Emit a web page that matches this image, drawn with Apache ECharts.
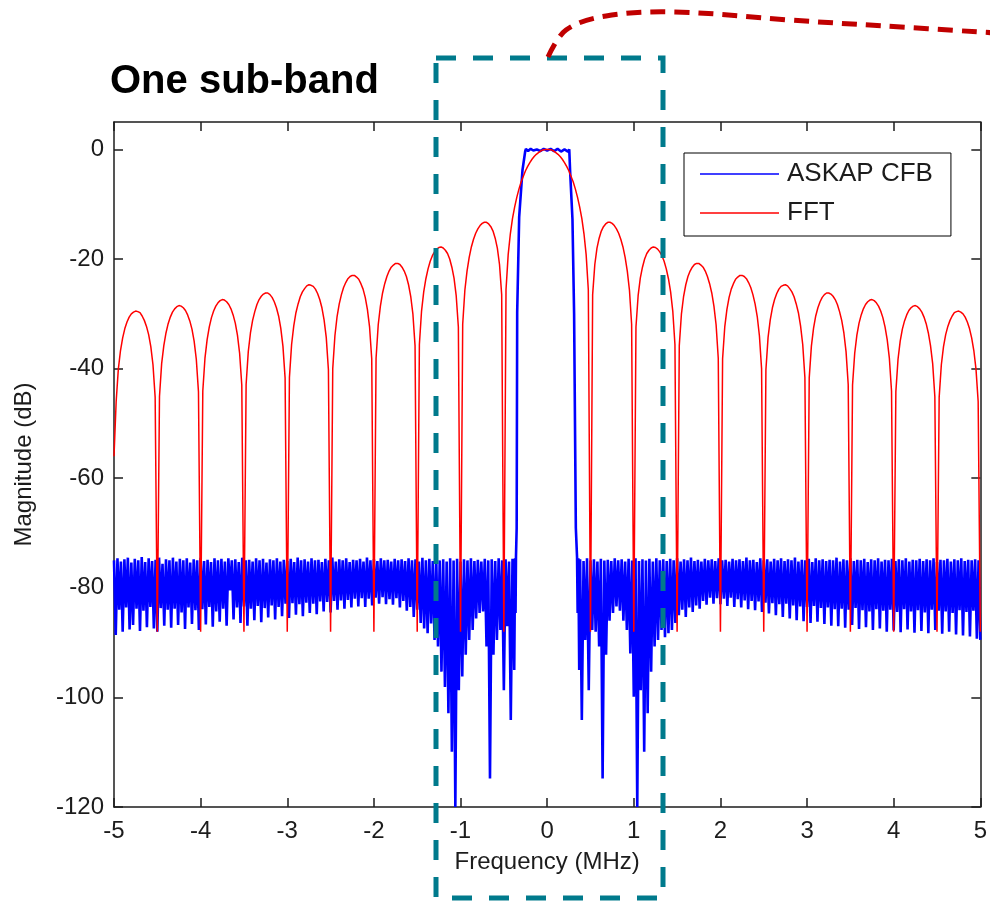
<!DOCTYPE html>
<html>
<head>
<meta charset="utf-8">
<script src="https://cdn.jsdelivr.net/npm/echarts@6/dist/echarts.min.js"></script>
<style>
  html, body { margin: 0; padding: 0; background: #ffffff; }
  #chart { width: 990px; height: 901px; }
</style>
</head>
<body>
<div id="chart"></div>
<script>
// ---- data -------------------------------------------------------------
// FFT response (dB), sampled every 0.025 MHz from -5 MHz to +5 MHz.
// Each row starts at a null and covers one 0.5 MHz lobe.
const fftStartMHz = -5;
const fftStepMHz = 0.025;
const fftDb = [
  -56.0, -46.0,-40.1,-36.7,-34.4,-32.7,-31.5,-30.6,-30.0,-29.7,-29.5,-29.6,-29.8,-30.4,-31.2,-32.3,-33.8,-36.0,-39.3,-45.2,
  -88.0, -45.1,-39.1,-35.8,-33.5,-31.8,-30.6,-29.7,-29.1,-28.7,-28.5,-28.6,-28.9,-29.4,-30.2,-31.3,-32.8,-35.0,-38.3,-44.2,
  -88.0, -44.1,-38.1,-34.7,-32.4,-30.7,-29.5,-28.6,-28.0,-27.6,-27.4,-27.5,-27.8,-28.3,-29.1,-30.2,-31.7,-33.9,-37.2,-43.0,
  -88.0, -42.9,-36.9,-33.5,-31.2,-29.6,-28.3,-27.4,-26.8,-26.4,-26.2,-26.2,-26.5,-27.0,-27.8,-28.9,-30.4,-32.6,-35.9,-41.7,
  -88.0, -41.6,-35.6,-32.2,-29.8,-28.2,-26.9,-26.0,-25.4,-24.9,-24.7,-24.8,-25.0,-25.5,-26.3,-27.4,-28.9,-31.1,-34.3,-40.2,
  -88.0, -40.0,-34.0,-30.5,-28.2,-26.5,-25.2,-24.3,-23.6,-23.2,-23.0,-23.0,-23.3,-23.7,-24.5,-25.5,-27.0,-29.2,-32.4,-38.2,
  -88.0, -38.1,-32.0,-28.6,-26.2,-24.5,-23.2,-22.2,-21.5,-21.1,-20.8,-20.8,-21.0,-21.5,-22.2,-23.2,-24.7,-26.8,-30.0,-35.8,
  -88.0, -35.6,-29.5,-26.0,-23.6,-21.8,-20.4,-19.4,-18.7,-18.2,-17.9,-17.8,-18.0,-18.4,-19.0,-20.0,-21.5,-23.5,-26.7,-32.4,
  -88.0, -31.9,-25.7,-22.2,-19.7,-17.8,-16.4,-15.3,-14.5,-13.9,-13.5,-13.3,-13.3,-13.6,-14.1,-14.9,-16.2,-18.0,-21.0,-26.5,
  // main lobe, -0.5 … +0.475
  -88.0, -25.6,-19.2,-15.4,-12.6,-10.5,-8.7,-7.2,-5.9,-4.9,-3.9,-3.1,-2.4,-1.8,-1.3,-0.9,-0.6,-0.3,-0.1,0.0,
    0.0,  0.0,-0.1,-0.3,-0.6,-0.9,-1.3,-1.8,-2.4,-3.1,-3.9,-4.9,-5.9,-7.2,-8.7,-10.5,-12.6,-15.4,-19.2,-25.6,
  -88.0, -26.5,-21.0,-18.0,-16.2,-14.9,-14.1,-13.6,-13.3,-13.3,-13.5,-13.9,-14.5,-15.3,-16.4,-17.8,-19.7,-22.2,-25.7,-31.9,
  -88.0, -32.4,-26.7,-23.5,-21.5,-20.0,-19.0,-18.4,-18.0,-17.8,-17.9,-18.2,-18.7,-19.4,-20.4,-21.8,-23.6,-26.0,-29.5,-35.6,
  -88.0, -35.8,-30.0,-26.8,-24.7,-23.2,-22.2,-21.5,-21.0,-20.8,-20.8,-21.1,-21.5,-22.2,-23.2,-24.5,-26.2,-28.6,-32.0,-38.1,
  -88.0, -38.2,-32.4,-29.2,-27.0,-25.5,-24.5,-23.7,-23.3,-23.0,-23.0,-23.2,-23.6,-24.3,-25.2,-26.5,-28.2,-30.5,-34.0,-40.0,
  -88.0, -40.2,-34.3,-31.1,-28.9,-27.4,-26.3,-25.5,-25.0,-24.8,-24.7,-24.9,-25.4,-26.0,-26.9,-28.2,-29.8,-32.2,-35.6,-41.6,
  -88.0, -41.7,-35.9,-32.6,-30.4,-28.9,-27.8,-27.0,-26.5,-26.2,-26.2,-26.4,-26.8,-27.4,-28.3,-29.6,-31.2,-33.5,-36.9,-42.9,
  -88.0, -43.0,-37.2,-33.9,-31.7,-30.2,-29.1,-28.3,-27.8,-27.5,-27.4,-27.6,-28.0,-28.6,-29.5,-30.7,-32.4,-34.7,-38.1,-44.1,
  -88.0, -44.2,-38.3,-35.0,-32.8,-31.3,-30.2,-29.4,-28.9,-28.6,-28.5,-28.7,-29.1,-29.7,-30.6,-31.8,-33.5,-35.8,-39.1,-45.1,
  -88.0, -45.2,-39.3,-36.0,-33.8,-32.3,-31.2,-30.4,-29.8,-29.6,-29.5,-29.7,-30.0,-30.6,-31.5,-32.7,-34.4,-36.7,-40.1,-46.0,
  -88.0
];

// Filter-bank stop band below the channel, every 0.02 MHz from -5.00 to -0.38 MHz.
const cfbStepMHz = 0.02;
const cfbLowStartMHz = -5.0;
const cfbLowDb = [
  -75.0,-88.6,-74.6,-84.0,-75.2,-88.0,-74.8,-83.6,-74.5,-87.6,
  -75.4,-86.8,-74.7,-83.8,-75.0,-87.9,-74.4,-84.2,-75.3,-87.2,
  -74.6,-83.5,-75.1,-87.4,-74.9,-88.0,-74.5,-83.7,-75.6,-86.9,
  -74.8,-84.0,-75.0,-87.3,-74.5,-83.8,-75.2,-86.8,-74.7,-84.5,
  -75.0,-87.5,-74.6,-83.6,-75.4,-86.6,-74.8,-84.1,-75.0,-87.7,
  -74.5,-83.9,-75.1,-86.7,-74.9,-83.5,-75.3,-87.1,-74.6,-84.3,
  -75.0,-86.2,-74.7,-83.8,-75.2,-86.9,-74.6,-80.5,-75.0,-85.8,
  -74.8,-83.6,-75.3,-86.4,-74.5,-83.4,-75.0,-86.9,-74.9,-83.8,
  -75.2,-85.9,-74.6,-83.3,-75.0,-86.3,-74.7,-83.7,-75.4,-85.4,
  -74.8,-83.2,-75.0,-85.8,-74.6,-83.5,-75.2,-85.2,-74.9,-82.9,
  -75.1,-85.5,-74.7,-82.8,-75.3,-84.9,-74.5,-83.0,-75.0,-85.2,
  -74.8,-82.7,-75.2,-84.6,-74.6,-82.9,-75.0,-84.8,-74.9,-82.5,
  -75.3,-84.3,-74.7,-82.6,-75.0,-84.5,-74.5,-82.4,-75.2,-84.0,
  -74.8,-82.3,-75.0,-83.8,-74.6,-82.2,-75.3,-83.6,-74.9,-82.0,
  -75.0,-83.4,-74.7,-81.9,-75.2,-83.5,-74.5,-82.0,-75.0,-83.2,
  -74.8,-81.8,-75.1,-82.9,-74.6,-81.7,-75.0,-83.0,-74.9,-82.1,
  -75.2,-83.1,-74.7,-81.9,-75.0,-83.6,-74.8,-82.4,-75.1,-84.2,
  -74.6,-83.5,-75.0,-85.3,-74.8,-84.0,-75.2,-86.4,-74.5,-87.4,
  -75.0,-88.3,-74.7,-86.5,-75.1,-89.5,-74.9,-90.7,-75.0,-95.3,
  -74.8,-98.1,-75.2,-102.9,-74.6,-109.9,-75.0,-120.0,-74.7,-98.7,
  -75.2,-96.2,-74.8,-92.2,-75.0,-89.5,-74.6,-87.7,-75.1,-85.6,
  -74.9,-84.6,-75.2,-84.3,-74.7,-90.7,-75.0,-114.8,-74.8,-92.2,
  -75.1,-89.5,-74.6,-87.7,-75.0,-98.7,-74.8,-87.0,-75.2,-104.1,
  -74.7,-95.0
];

// Transition bands and pass band of the channel, [MHz, dB].
const cfbCore = [
  [-0.370,-74.6],[-0.365,-84.6],[-0.360,-74.4],[-0.352,-69.1],[-0.346,-29.7],
  [-0.323,-12.3],[-0.285,-3.8],[-0.253,-0.3],[-0.245,0.1],[-0.220,-0.3],
  [-0.190,0.1],[-0.160,-0.2],[-0.120,0.0],[-0.080,-0.3],[-0.040,0.1],
  [0.000,-0.2],[0.040,0.1],[0.080,-0.3],[0.120,0.1],[0.160,-0.4],
  [0.200,0.0],[0.240,-0.4],[0.255,0.0],[0.261,-0.3],[0.265,-4.0],
  [0.292,-12.7],[0.311,-30.0],[0.331,-69.1],[0.345,-74.4],[0.352,-84.6],
  [0.360,-74.6],[0.370,-95.0]
];

// Stop band above the channel, every 0.02 MHz from 0.38 to 5.00 MHz.
const cfbHighStartMHz = 0.38;
const cfbHighDb = [
  -74.8,-104.1,-75.1,-89.5,-74.6,-98.7,-75.0,-87.7,-74.8,-88.0,
  -75.2,-90.7,-74.7,-114.8,-75.0,-92.2,-74.9,-86.0,-75.1,-84.6,
  -74.6,-83.4,-75.0,-84.2,-74.8,-86.0,-75.2,-87.7,-74.7,-92.0,
  -75.0,-99.9,-74.6,-120.0,-75.1,-98.7,-74.8,-109.9,-75.0,-102.9,
  -74.7,-95.3,-75.2,-90.7,-74.6,-89.5,-75.0,-87.7,-74.8,-89.0,
  -75.1,-88.3,-74.7,-87.7,-75.0,-86.4,-74.6,-85.0,-75.2,-84.0,
  -74.8,-85.3,-75.0,-83.6,-74.5,-84.4,-75.1,-83.2,-74.9,-83.8,
  -75.2,-82.4,-74.7,-83.1,-75.0,-81.8,-74.8,-82.9,-75.1,-81.9,
  -74.6,-83.0,-75.0,-82.0,-74.9,-83.3,-75.2,-81.8,-74.7,-83.5,
  -75.0,-82.1,-74.8,-83.6,-75.1,-82.3,-74.5,-83.9,-75.0,-82.4,
  -74.9,-84.1,-75.3,-82.5,-74.6,-84.4,-75.0,-82.7,-74.8,-84.7,
  -75.2,-82.8,-74.7,-85.0,-75.0,-83.0,-74.6,-85.3,-75.1,-82.9,
  -74.8,-85.6,-75.0,-83.2,-74.5,-85.9,-75.2,-83.4,-74.9,-86.1,
  -75.0,-83.5,-74.7,-86.4,-75.3,-83.3,-74.6,-86.2,-75.0,-83.7,
  -74.8,-86.6,-75.1,-83.6,-74.9,-86.9,-75.0,-83.9,-74.5,-87.0,
  -75.2,-83.8,-74.8,-87.3,-75.0,-84.0,-74.6,-86.8,-75.1,-83.7,
  -74.9,-87.5,-75.0,-84.1,-74.7,-87.2,-75.3,-84.3,-74.8,-87.7,
  -75.0,-83.9,-74.6,-87.4,-75.2,-84.2,-74.9,-88.0,-75.0,-84.0,
  -74.7,-87.8,-75.1,-84.4,-74.8,-88.1,-75.0,-83.9,-74.6,-87.6,
  -75.2,-84.3,-74.9,-88.2,-75.0,-84.1,-74.7,-87.9,-75.1,-84.5,
  -74.8,-88.3,-75.0,-84.0,-74.6,-87.7,-75.3,-84.2,-74.9,-88.4,
  -75.0,-84.3,-74.7,-88.0,-75.2,-84.6,-74.8,-88.5,-75.0,-84.1,
  -74.6,-88.7,-75.1,-84.4,-74.9,-88.9,-75.0,-84.2,-74.8,-89.3,
  -75.0,-89.5
];

const seriesNames = ['ASKAP CFB', 'FFT'];
const xTicks = [-5, -4, -3, -2, -1, 0, 1, 2, 3, 4, 5];
const yTicks = [-120, -100, -80, -60, -40, -20, 0];

// ---- build series --------------------------------------------------------
const round = v => Math.round(v * 1000) / 1000;
const fftData = fftDb.map((v, i) => [round(fftStartMHz + i * fftStepMHz), v]);
const cfbData = []
  .concat(cfbLowDb.map((v, i) => [round(cfbLowStartMHz + i * cfbStepMHz), v]))
  .concat(cfbCore)
  .concat(cfbHighDb.map((v, i) => [round(cfbHighStartMHz + i * cfbStepMHz), v]));

const FONT = '"Liberation Sans", Arial, sans-serif';
const INK = '#1c1c1c';

const chart = echarts.init(document.getElementById('chart'), null, { renderer: 'canvas' });

const axisLine = { show: true, onZero: false, lineStyle: { color: INK, width: 1.5 } };
const inTick = { show: true, inside: true, length: 9, lineStyle: { color: INK, width: 1.5 } };

chart.setOption({
  animation: false,
  backgroundColor: '#ffffff',
  grid: { left: 114, right: 8, top: 122, bottom: 94, containLabel: false },
  legend: {
    data: [
      { name: seriesNames[0], icon: 'rect', itemStyle: { color: '#0000ff' } },
      { name: seriesNames[1], icon: 'rect', itemStyle: { color: '#ff0000' } }
    ],
    orient: 'vertical',
    left: 684,
    top: 153,
    padding: [8, 18, 10, 16],
    itemWidth: 79,
    itemHeight: 1.6,
    itemGap: 13,
    backgroundColor: '#ffffff',
    borderColor: '#000000',
    borderWidth: 1,
    borderRadius: 0,
    textStyle: { fontFamily: FONT, fontSize: 26, color: INK, padding: [0, 0, 0, 3] }
  },
  xAxis: [
    {
      type: 'value', min: -5, max: 5, interval: 1,
      name: 'Frequency (MHz)', nameLocation: 'middle', nameGap: 43,
      nameTextStyle: { fontFamily: FONT, fontSize: 24, color: INK },
      axisLine: axisLine,
      axisTick: Object.assign({ customValues: xTicks }, inTick),
      axisLabel: { customValues: xTicks, margin: 12, fontFamily: FONT, fontSize: 24, color: INK },
      splitLine: { show: false }
    },
    {
      type: 'value', min: -5, max: 5, interval: 1, position: 'top',
      axisLine: axisLine,
      axisTick: Object.assign({ customValues: xTicks }, inTick),
      axisLabel: { show: false },
      splitLine: { show: false }
    }
  ],
  yAxis: [
    {
      type: 'value', min: -120, max: 5, interval: 20,
      name: 'Magnitude (dB)', nameLocation: 'middle', nameGap: 78,
      nameTextStyle: { fontFamily: FONT, fontSize: 24, color: INK },
      axisLine: axisLine,
      axisTick: Object.assign({ customValues: yTicks }, inTick),
      axisLabel: { customValues: yTicks, margin: 10, fontFamily: FONT, fontSize: 24, color: INK },
      splitLine: { show: false }
    },
    {
      type: 'value', min: -120, max: 5, interval: 20, position: 'right',
      axisLine: axisLine,
      axisTick: Object.assign({ customValues: yTicks }, inTick),
      axisLabel: { show: false },
      splitLine: { show: false }
    }
  ],
  series: [
    {
      name: seriesNames[0], type: 'line', data: cfbData,
      xAxisIndex: 0, yAxisIndex: 0,
      symbol: 'none', showSymbol: false, silent: true, z: 2,
      lineStyle: { color: '#0000ff', width: 2.6 },
      itemStyle: { color: '#0000ff' }
    },
    {
      name: seriesNames[1], type: 'line', data: fftData,
      xAxisIndex: 0, yAxisIndex: 0,
      symbol: 'none', showSymbol: false, silent: true, z: 3,
      lineStyle: { color: '#ff0000', width: 1.5 },
      itemStyle: { color: '#ff0000' }
    }
  ],
  graphic: [
    {
      type: 'text', left: 110, top: 62, z: 100,
      style: { text: 'One sub-band', fontFamily: FONT, fontWeight: 'bold', fontSize: 40, fill: '#000000' }
    },
    {
      type: 'rect', z: 100,
      shape: { x: 436, y: 58, width: 227, height: 840 },
      style: { fill: 'none', stroke: '#007a8c', lineWidth: 5, lineDash: [20, 17] }
    },
    {
      type: 'polyline', z: 100,
      shape: { points: [[548, 57], [566, 30], [606, 16], [675, 12], [789, 20], [884, 26], [996, 33]], smooth: 0.35 },
      style: { fill: 'none', stroke: '#c00000', lineWidth: 5, lineDash: [15, 9] }
    }
  ]
});
</script>
</body>
</html>
